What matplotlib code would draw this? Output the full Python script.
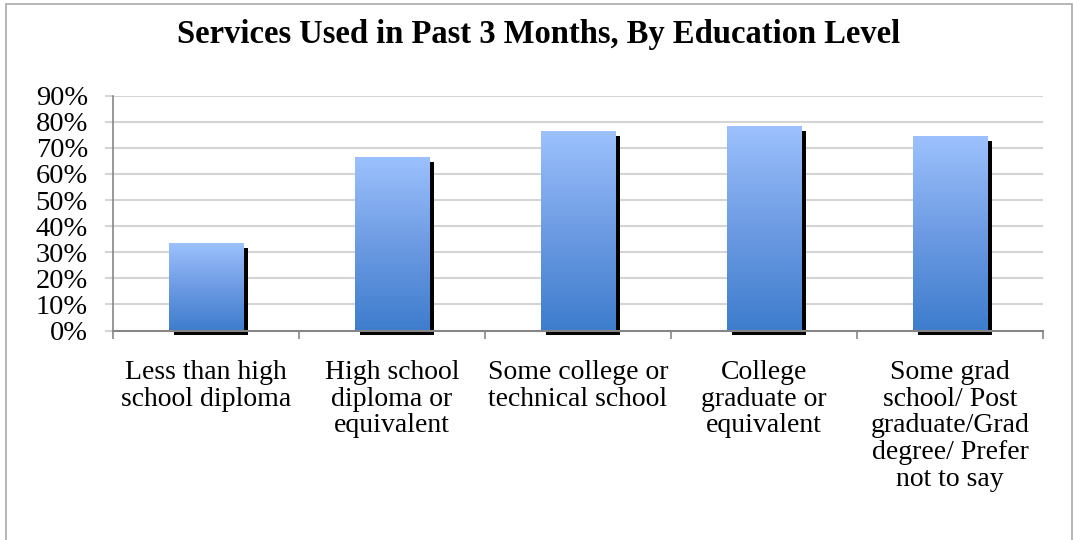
import numpy as np
import matplotlib
matplotlib.use("Agg")
import matplotlib.pyplot as plt
import matplotlib.transforms as mtransforms
from matplotlib.patches import Rectangle
from matplotlib.colors import LinearSegmentedColormap

# data
categories = [
    "Less than high\nschool diploma",
    "High school\ndiploma or\nequivalent",
    "Some college or\ntechnical school",
    "College\ngraduate or\nequivalent",
    "Some grad\nschool/ Post\ngraduate/Grad\ndegree/ Prefer\nnot to say",
]
values = [0.33, 0.66, 0.76, 0.78, 0.74]
yticks = [0.0, 0.1, 0.2, 0.3, 0.4, 0.5, 0.6, 0.7, 0.8, 0.9]

plt.rcParams['font.family'] = ['Liberation Serif', 'DejaVu Serif']

W, H = 1073, 540
fig = plt.figure(figsize=(W / 100, H / 100), dpi=100)
fig.patch.set_facecolor('white')

# chart border
fig.add_artist(Rectangle((6 / W, -0.02), 1066 / W, (536 / H) + 0.02,
                         transform=fig.transFigure, fill=False,
                         edgecolor='#a9a9a9', linewidth=1.2))

ax_left, ax_right = 113, 1043
ax_bottom, ax_top = 330.5, 95.7
ax = fig.add_axes([ax_left / W, 1 - ax_bottom / H,
                   (ax_right - ax_left) / W, (ax_bottom - ax_top) / H])

x = np.arange(len(categories))
bw = 0.40

# gridlines
for t in yticks[1:]:
    ax.axhline(t, color='#d4d4d4', linewidth=1.5, zorder=1)

# shadows
shadow_tr = mtransforms.offset_copy(ax.transData, fig=fig, x=5, y=-4, units='dots')
for xi, v in zip(x, values):
    ax.add_patch(Rectangle((xi - bw / 2, 0), bw, v, facecolor='black',
                           edgecolor='none', transform=shadow_tr, zorder=2,
                           clip_on=False))

# gradient bars
cmap = LinearSegmentedColormap.from_list('bar', ['#3e7dcd', '#6d9be3', '#9cc1fd'])
grad = np.linspace(0, 1, 256).reshape(-1, 1)
for xi, v in zip(x, values):
    ax.imshow(grad, cmap=cmap, origin='lower', aspect='auto',
              extent=[xi - bw / 2, xi + bw / 2, 0, v], zorder=3,
              interpolation='bilinear')
ax.set_xlim(-0.5, len(categories) - 0.5)
ax.set_ylim(0, 0.9)

# spines
for s in ['top', 'right']:
    ax.spines[s].set_visible(False)
ax.spines['left'].set_color('#868686')
ax.spines['bottom'].set_color('#868686')
ax.spines['left'].set_linewidth(1.2)
ax.spines['bottom'].set_linewidth(1.5)
ax.spines['bottom'].set_zorder(5)

ax.set_yticks(yticks)
ax.set_yticklabels(['{:d}%'.format(int(round(t * 100))) for t in yticks])
ax.tick_params(axis='y', length=6, width=1.5, color='#d4d4d4', pad=12,
               labelsize=20.5, labelcolor='black')

ax.set_xticks(x)
ax.set_xticklabels(categories, linespacing=1.1)
ax.set_xticks(np.arange(-0.5, len(categories)), minor=True)
ax.tick_params(axis='x', which='major', length=0, pad=21, labelsize=20)
ax.tick_params(axis='x', which='minor', length=6, width=1.2, color='#868686')

fig.text(539 / W, 1 - 43 / H, 'Services Used in Past 3 Months, By Education Level',
         ha='center', va='baseline', fontsize=23.5, fontweight='bold')

fig.savefig('out.png', dpi=100)
